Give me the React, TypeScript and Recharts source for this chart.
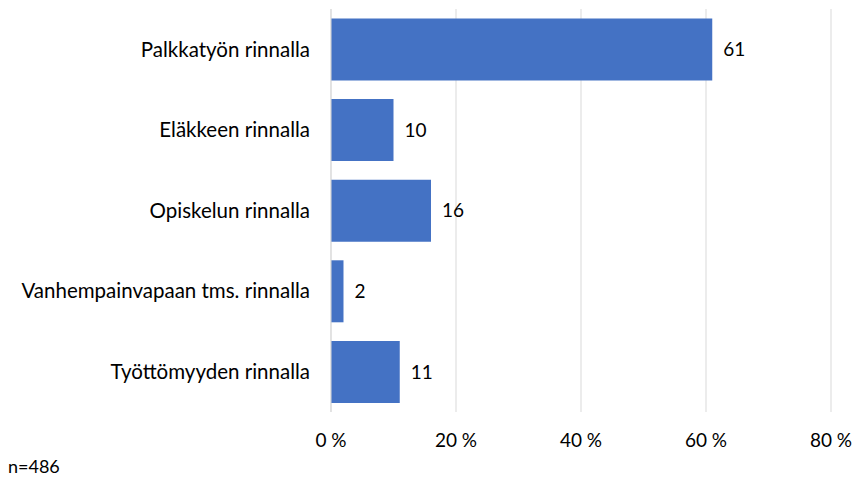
import React from 'react';
import { BarChart, Bar, XAxis, YAxis, CartesianGrid, LabelList } from 'recharts';

const categories = [
    'Palkkatyön rinnalla',
    'Eläkkeen rinnalla',
    'Opiskelun rinnalla',
    'Vanhempainvapaan tms. rinnalla',
    'Työttömyyden rinnalla',
];
const values = [61, 10, 16, 2, 11];
const xTicks = [0, 20, 40, 60, 80];

const data = categories.map((name, i) => ({ name, value: values[i] }));

const font = 'Lato, sans-serif';

export default function App() {
    return (
        <div style={{ position: 'absolute', left: 0, top: 0, width: 860, height: 477, background: '#fff', fontFamily: font }}>
            <BarChart
                layout="vertical"
                width={860}
                height={477}
                data={data}
                margin={{ top: 9, right: 29, left: 0, bottom: 0 }}
                barCategoryGap={9.5}
            >
                <CartesianGrid horizontal={false} stroke="#d9d9d9" />
                <XAxis
                    type="number"
                    domain={[0, 80]}
                    ticks={xTicks}
                    tickFormatter={(v: number) => `${v} %`}
                    axisLine={false}
                    tickLine={false}
                    height={65}
                    tickMargin={16}
                    tick={{ fill: '#000', fontSize: 19, fontFamily: font }}
                />
                <YAxis
                    type="category"
                    dataKey="name"
                    width={331}
                    axisLine={{ stroke: '#d9d9d9' }}
                    tickLine={false}
                    tickMargin={15}
                    tick={{ fill: '#000', fontSize: 20.5, fontFamily: font }}
                />
                <Bar dataKey="value" fill="#4472c4" isAnimationActive={false}>
                    <LabelList dataKey="value" position="right" offset={11} fill="#000" fontSize={19} fontFamily={font} />
                </Bar>
            </BarChart>
            <div style={{ position: 'absolute', left: 8, top: 455, fontSize: 18, color: '#000' }}>n=486</div>
        </div>
    );
}
